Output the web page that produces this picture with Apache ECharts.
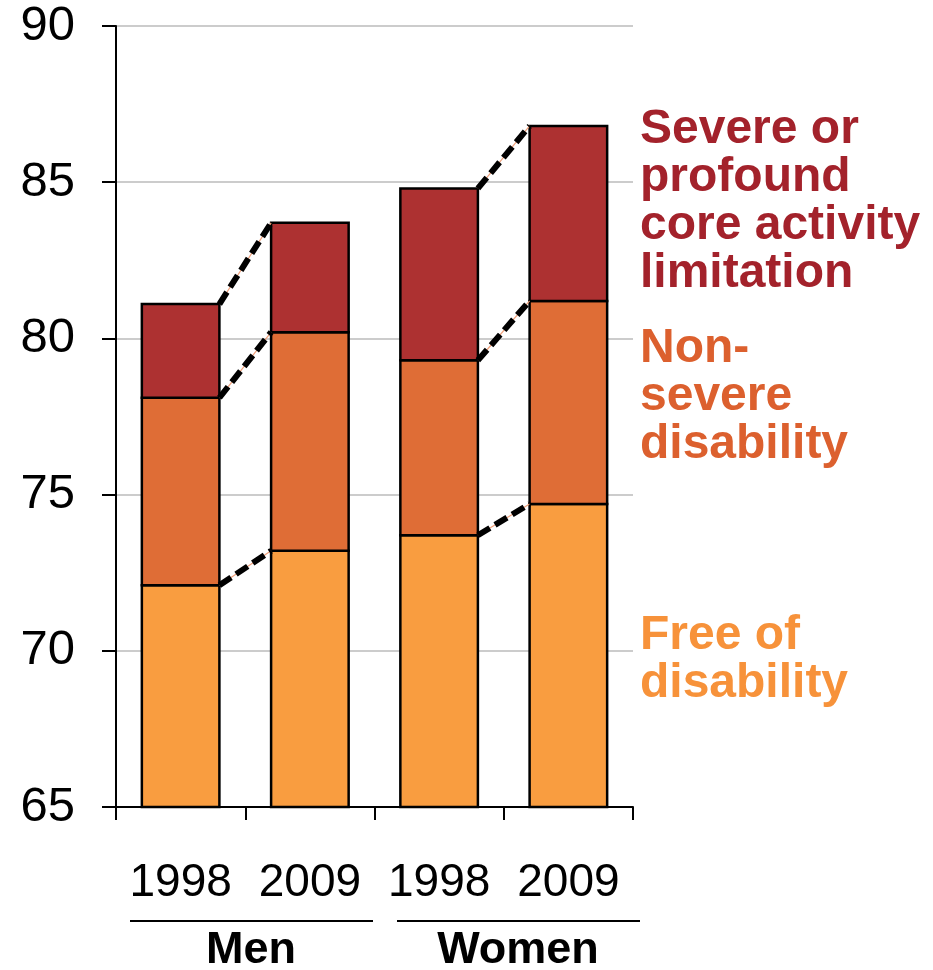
<!DOCTYPE html>
<html>
<head>
<meta charset="utf-8">
<script src="https://cdn.jsdelivr.net/npm/echarts@6/dist/echarts.min.js"></script>
<style>
  html, body { margin: 0; padding: 0; background: #ffffff; }
  #chart { width: 933px; height: 970px; }
</style>
</head>
<body>
<div id="chart"></div>
<script>
// Life expectancy at birth, split by disability status (years)
const categories = ['1998', '2009', '1998', '2009'];
const groups = ['Men', 'Women'];
// cumulative levels: top of each band
const freeOfDisabilityTop = [72.1, 73.2, 73.7, 74.7];
const withNonSevereTop = [78.1, 80.2, 79.3, 81.2];
const totalLifeExpectancy = [81.1, 83.7, 84.8, 86.8];
const yTicks = [65, 70, 75, 80, 85, 90];

const Y_MIN = 65;
const Y_MAX = 90;

const colors = {
  free: '#F99D40',
  nonSevere: '#DF6D36',
  severe: '#AD3131',
  severeText: '#A3222B',
  nonSevereText: '#DC602E',
  freeText: '#F7923A'
};

const FONT = '"Liberation Sans", Arial, sans-serif';
const BAR_RATIO = 0.6;

// each band as [category index, lower value, upper value]
const bandRows = (lower, upper) => upper.map((v, i) => [i, lower === null ? Y_MIN : lower[i], v]);
const freeBand = bandRows(null, freeOfDisabilityTop);
const nonSevereBand = bandRows(freeOfDisabilityTop, withNonSevereTop);
const severeBand = bandRows(withNonSevereTop, totalLifeExpectancy);

// dashed connectors between 1998 and 2009 of each group
const connectors = [];
[0, 2].forEach(start => {
  [freeOfDisabilityTop, withNonSevereTop, totalLifeExpectancy].forEach(level => {
    connectors.push([start, level[start], level[start + 1]]);
  });
});

// stacked band segment: filled rect with a centred black outline
const bandRenderer = fill => (params, api) => {
  const i = api.value(0);
  const lo = api.coord([i, api.value(1)]);
  const hi = api.coord([i, api.value(2)]);
  const w = api.size([1, 0])[0] * BAR_RATIO;
  return {
    type: 'rect',
    shape: { x: lo[0] - w / 2, y: hi[1], width: w, height: lo[1] - hi[1] },
    style: { fill, stroke: '#000000', lineWidth: 2.5 }
  };
};

const bandSeries = (name, data, fill, z) => ({
  name, type: 'custom', z,
  encode: { x: 0, y: [1, 2] },
  data,
  renderItem: bandRenderer(fill)
});

const chart = echarts.init(document.getElementById('chart'), null, { renderer: 'canvas' });

chart.setOption({
  animation: false,
  backgroundColor: '#ffffff',
  grid: { left: 116, right: 300, top: 26, bottom: 163, containLabel: false },
  xAxis: {
    type: 'category',
    data: categories,
    boundaryGap: true,
    axisLine: { lineStyle: { color: '#000', width: 2 } },
    axisTick: { show: true, alignWithLabel: false, interval: 0, length: 13, lineStyle: { color: '#000', width: 2 } },
    axisLabel: { interval: 0, margin: 53, color: '#000', fontSize: 46, fontFamily: FONT }
  },
  yAxis: {
    type: 'value',
    min: Y_MIN,
    max: Y_MAX,
    interval: 5,
    axisLine: { show: true, lineStyle: { color: '#000', width: 2 } },
    axisTick: { show: true, length: 14, lineStyle: { color: '#000', width: 2 } },
    axisLabel: {
      margin: 41, color: '#000', fontSize: 49, fontFamily: FONT,
      formatter: v => (yTicks.indexOf(v) >= 0 ? String(v) : '')
    },
    splitLine: { show: true, lineStyle: { color: '#cccccc', width: 2 } }
  },
  series: [
    bandSeries('Free of disability', freeBand, colors.free, 2),
    bandSeries('Non-severe disability', nonSevereBand, colors.nonSevere, 3),
    bandSeries('Severe or profound core activity limitation', severeBand, colors.severe, 4),
    {
      name: 'connectors', type: 'custom', silent: true, z: 5,
      encode: { x: 0, y: [1, 2] },
      data: connectors,
      renderItem: (params, api) => {
        const i = api.value(0);
        const p1 = api.coord([i, api.value(1)]);
        const p2 = api.coord([i + 1, api.value(2)]);
        const half = api.size([1, 0])[0] * BAR_RATIO / 2;
        const shape = { x1: p1[0] + half, y1: p1[1], x2: p2[0] - half, y2: p2[1] };
        return {
          type: 'group',
          children: [
            { type: 'line', shape, style: { stroke: '#F0A07A', lineWidth: 1.2 } },
            { type: 'line', shape, style: { stroke: '#000000', lineWidth: 6, lineDash: [14, 6], lineCap: 'butt' } }
          ]
        };
      }
    }
  ],
  graphic: [
    // group rules and names under the year labels
    { type: 'line', shape: { x1: 130, y1: 921, x2: 373, y2: 921 }, style: { stroke: '#000', lineWidth: 2 } },
    { type: 'line', shape: { x1: 397, y1: 921, x2: 640, y2: 921 }, style: { stroke: '#000', lineWidth: 2 } },
    { type: 'text', x: 251, y: 951, style: { text: groups[0], font: 'bold 45px ' + FONT, fill: '#000', textAlign: 'center', textVerticalAlign: 'middle' } },
    { type: 'text', x: 518, y: 951, style: { text: groups[1], font: 'bold 45px ' + FONT, fill: '#000', textAlign: 'center', textVerticalAlign: 'middle' } },
    // band names on the right
    { type: 'text', left: 640, top: 106, style: { text: 'Severe or\nprofound\ncore activity\nlimitation', font: 'bold 48px ' + FONT, lineHeight: 48, fill: colors.severeText } },
    { type: 'text', left: 640, top: 325, style: { text: 'Non-\nsevere\ndisability', font: 'bold 48px ' + FONT, lineHeight: 48, fill: colors.nonSevereText } },
    { type: 'text', left: 640, top: 612, style: { text: 'Free of\ndisability', font: 'bold 48px ' + FONT, lineHeight: 48, fill: colors.freeText } }
  ]
});
</script>
</body>
</html>
